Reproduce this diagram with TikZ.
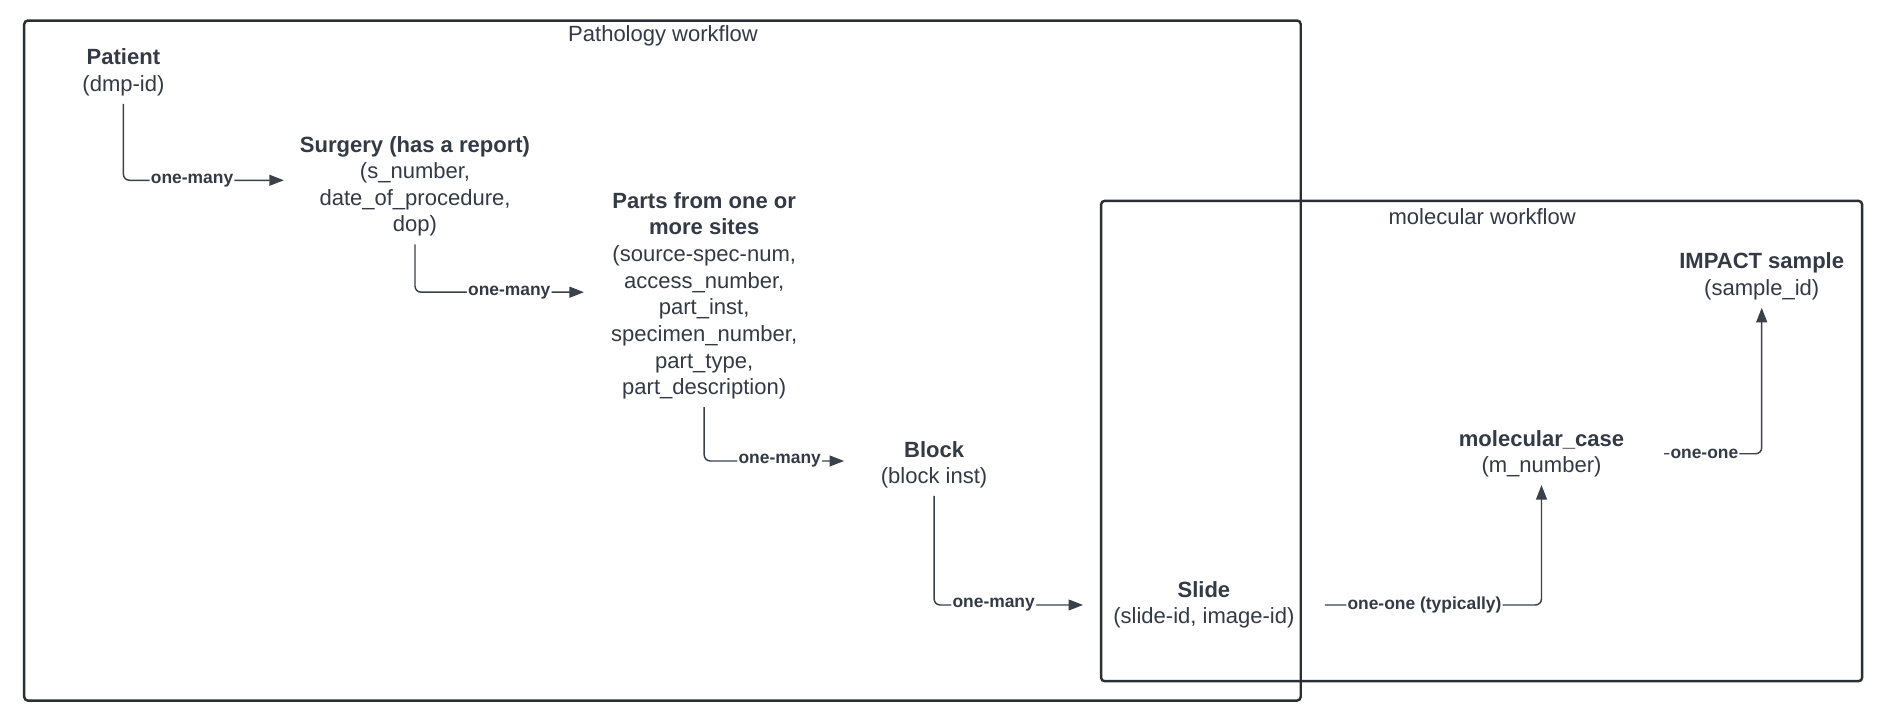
\documentclass[tikz,border=0pt]{standalone}
\usepackage{fontspec}
\setmainfont{Liberation Sans}
\usetikzlibrary{arrows.meta}
\definecolor{txt}{HTML}{333A45}
\definecolor{ln}{HTML}{3A414A}
\definecolor{frm}{HTML}{2A2E35}
\begin{document}
\begin{tikzpicture}[x=0.5pt, y=-0.5pt,
  frame/.style={draw=frm, line width=1pt, rounded corners=1.5pt},
  entity/.style={align=center, text=txt, font=\fontsize{9.1}{11}\selectfont, inner xsep=3pt, inner ysep=3pt},
  title/.style={text=txt, font=\fontsize{9.1}{11}\selectfont, inner sep=0pt},
  conn/.style={draw=ln, line width=0.6pt, rounded corners=2.5pt, -{Triangle[length=6pt,width=4.5pt]}},
  lbl/.style={fill=white, text=txt, font=\bfseries\fontsize{7.2}{8.5}\selectfont, inner xsep=0.5pt, inner ysep=1pt}]
\useasboundingbox[fill=white] (0,0) rectangle (1567,592.7);
% frames
\draw[frame] (20,17) rectangle (1075,579);
\draw[frame] (910,166) rectangle (1539,563);
\node[title] (pathtitle) at (548,30) {Pathology workflow};
\node[title] (moltitle) at (1225,179) {molecular workflow};
% entities
\node[entity] (patient) at (102,60) {\textbf{Patient}\\(dmp-id)};
\node[entity, minimum width=108pt] (surgery) at (343,154) {\textbf{Surgery (has a report)}\\(s\_number,\\date\_of\_procedure,\\dop)};
\node[entity, minimum width=99pt] (parts) at (582,244.5) {\textbf{Parts from one or}\\\textbf{more sites}\\(source-spec-num,\\access\_number,\\part\_inst,\\specimen\_number,\\part\_type,\\part\_description)};
\node[entity, minimum width=74pt] (block) at (772,384) {\textbf{Block}\\(block inst)};
\node[entity, minimum width=99.5pt] (slide) at (995,500) {\textbf{Slide}\\(slide-id, image-id)};
\node[entity, minimum width=101pt] (molcase) at (1274,375) {\textbf{molecular\_case}\\(m\_number)};
\node[entity] (impact) at (1456,228.5) {\textbf{IMPACT sample}\\(sample\_id)};
% connectors
\draw[conn] (patient.south) |- node[lbl,pos=0.714]{one-many} ([yshift=2.5pt]surgery.west);
\draw[conn] (surgery.south) |- node[lbl,pos=0.779]{one-many} ([yshift=1.5pt]parts.west);
\draw[conn] (parts.south) |- node[lbl,pos=0.77]{one-many} ([yshift=1.5pt]block.west);
\draw[conn] (block.south) |- node[lbl,pos=0.70]{one-many} (slide.west);
\draw[conn] (slide.east) -| node[lbl,pos=0.23]{one-one (typically)} (molcase.south);
\draw[conn] (molcase.east) -| node[lbl,pos=0.206]{one-one} (impact.south);
\end{tikzpicture}
\end{document}
